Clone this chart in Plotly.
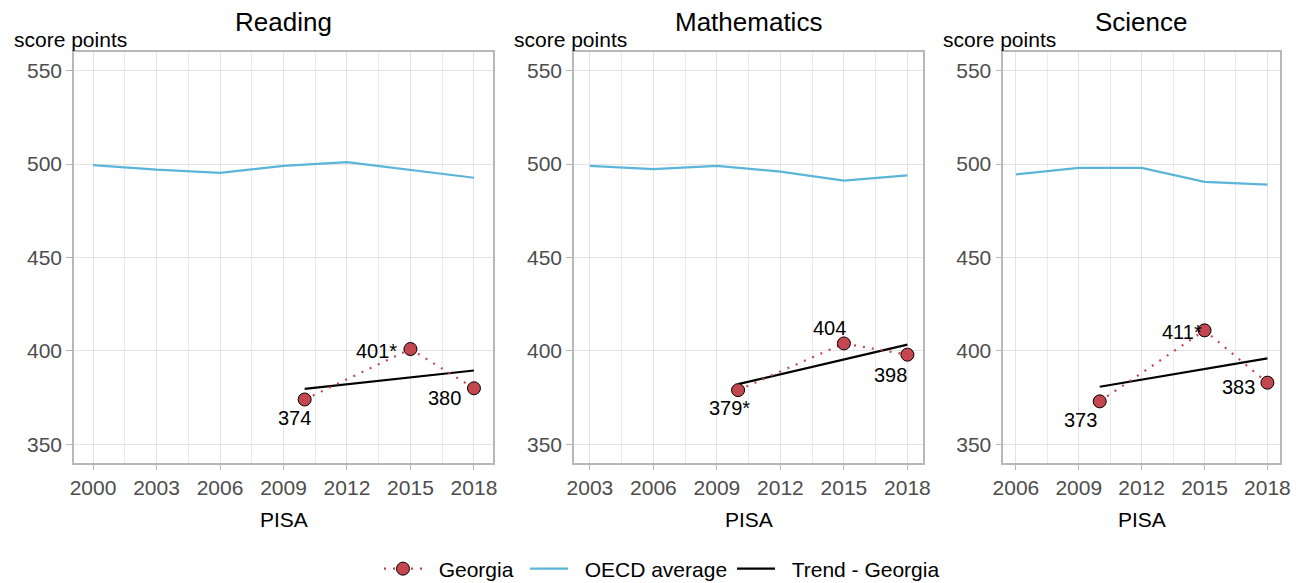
import plotly.graph_objects as go

# ---------------- data ----------------
subjects = ["Reading", "Mathematics", "Science"]

oecd_years_reading = [2000, 2003, 2006, 2009, 2012, 2015, 2018]
oecd_reading = [499.5, 497, 495.3, 499, 501, 497, 492.7]

oecd_years_math = [2003, 2006, 2009, 2012, 2015, 2018]
oecd_math = [499, 497.3, 499, 496, 491.2, 494]

oecd_years_science = [2006, 2009, 2012, 2015, 2018]
oecd_science = [494.5, 498, 498, 490.5, 489]

georgia_years = [2010, 2015, 2018]
georgia_reading = [374, 401, 380]
georgia_math = [379, 404, 398]
georgia_science = [373, 411, 383]

labels_reading = ["374", "401*", "380"]
labels_math = ["379*", "404", "398"]
labels_science = ["373", "411*", "383"]

trend_years = [2010, 2018]
trend_reading = [379.7, 389.5]
trend_math = [382.2, 403.4]
trend_science = [380.8, 396.0]

x_ticks_reading = [2000, 2003, 2006, 2009, 2012, 2015, 2018]
x_ticks_math = [2003, 2006, 2009, 2012, 2015, 2018]
x_ticks_science = [2006, 2009, 2012, 2015, 2018]
y_ticks = [350, 400, 450, 500, 550]

# ---------------- style ----------------
# The page body has an 8px margin, so the figure is drawn 8px in from the
# window's top-left corner; positions below are given in window pixels.
OFF = 8
W, H = 1303 - OFF, 583 - OFF
FONT = "Liberation Sans, Arial, sans-serif"
OECD_COLOR = "#5BB5D8"
GEO_COLOR = "#C4474F"
GRID = "#E3E3E3"
BORDER = "#B8B8B8"
TICKTXT = "#4D4D4D"
NB = "\u00a0" * 2


def xp(px):
    return (px - OFF) / W


def yp(py):
    return (H - (py - OFF)) / H


# plot areas in window pixels (left, right)
panel_px = [(74, 493), (574, 923.3), (1003.3, 1280)]
top_px, bottom_px = 52, 463
y_dom = [yp(bottom_px), yp(top_px)]

# label offsets: (xanchor, xshift, yshift)
label_offsets = [
    [("center", -10, -19), ("right", -11, -2), ("right", -11, -10)],
    [("center", -9, -18), ("center", -14, 15), ("center", -17, -20)],
    [("center", -19, -19), ("right", -1, -2), ("right", -10, -4)],
]

# legend boxes (left, window pixels)
legend_left_px = {"legend": 379, "legend2": 525, "legend3": 732}
legend_y = yp(569)

panels = [
    (oecd_years_reading, oecd_reading, georgia_reading, labels_reading, trend_reading, x_ticks_reading),
    (oecd_years_math, oecd_math, georgia_math, labels_math, trend_math, x_ticks_math),
    (oecd_years_science, oecd_science, georgia_science, labels_science, trend_science, x_ticks_science),
]

fig = go.Figure()
annotations = []
layout_axes = {}

for i, (oy, ov, gv, gl, tv, xt) in enumerate(panels):
    n = "" if i == 0 else str(i + 1)
    xa, ya = "x" + n, "y" + n
    first = i == 0

    fig.add_trace(go.Scatter(
        x=oy, y=ov, mode="lines", name=NB + "OECD average",
        line=dict(color=OECD_COLOR, width=2.2),
        xaxis=xa, yaxis=ya, showlegend=first, legend="legend2",
    ))
    fig.add_trace(go.Scatter(
        x=trend_years, y=tv, mode="lines", name=NB + "Trend - Georgia",
        line=dict(color="black", width=2.2),
        xaxis=xa, yaxis=ya, showlegend=first, legend="legend3",
    ))
    fig.add_trace(go.Scatter(
        x=georgia_years, y=gv, mode="lines+markers", name=NB + "Georgia",
        line=dict(color=GEO_COLOR, width=2.2, dash="2px,7px"),
        marker=dict(color=GEO_COLOR, size=13, line=dict(color="black", width=1)),
        xaxis=xa, yaxis=ya, showlegend=first, legend="legend",
    ))

    for (yr, v, lab, (anc, dx, dy)) in zip(georgia_years, gv, gl, label_offsets[i]):
        annotations.append(dict(
            x=yr, y=v, xref=xa, yref=ya, text=lab, showarrow=False,
            xanchor=anc, yanchor="middle", xshift=dx, yshift=dy,
            font=dict(family=FONT, size=20, color="black"),
        ))

    lo, hi = xt[0], xt[-1]
    pad = (hi - lo) * 0.05
    l_px, r_px = panel_px[i]
    layout_axes["xaxis" + n] = dict(
        domain=[xp(l_px), xp(r_px)], range=[lo - pad, hi + pad],
        anchor=ya, tickmode="array", tickvals=xt,
        ticktext=[str(t) for t in xt], automargin=False,
        showgrid=True, gridcolor=GRID, gridwidth=1.4,
        minor=dict(tickmode="array", tickvals=[t + 1.5 for t in xt[:-1]],
                   showgrid=True, gridcolor="#EBEBEB", gridwidth=0.9, ticks=""),
        showline=True, linecolor=BORDER, linewidth=1.6, mirror=True,
        ticks="outside", ticklen=5, tickcolor=BORDER, tickwidth=1.3,
        tickfont=dict(family=FONT, size=21, color=TICKTXT),
        zeroline=False, fixedrange=True,
    )
    layout_axes["yaxis" + n] = dict(
        domain=y_dom, range=[340, 560], anchor=xa, automargin=False,
        tickmode="array", tickvals=y_ticks,
        showgrid=True, gridcolor=GRID, gridwidth=1.4,
        showline=True, linecolor=BORDER, linewidth=1.6, mirror=True,
        ticks="outside", ticklen=6, tickcolor=BORDER, tickwidth=1.3,
        tickfont=dict(family=FONT, size=21, color=TICKTXT),
        zeroline=False, fixedrange=True,
    )

    cx = xp((l_px + r_px) / 2)
    annotations.append(dict(
        x=cx, y=yp(22), xref="paper", yref="paper", text=subjects[i],
        showarrow=False, xanchor="center", yanchor="middle",
        font=dict(family=FONT, size=26, color="black"),
    ))
    annotations.append(dict(
        x=xp(l_px - 62), y=yp(40), xref="paper", yref="paper",
        text="score points", showarrow=False, xanchor="left", yanchor="middle",
        font=dict(family=FONT, size=21, color="black"),
    ))
    annotations.append(dict(
        x=cx, y=yp(519), xref="paper", yref="paper", text="PISA",
        showarrow=False, xanchor="center", yanchor="middle",
        font=dict(family=FONT, size=21, color="black"),
    ))

legend_common = dict(orientation="h", xanchor="left", y=legend_y, yanchor="middle",
                     font=dict(family=FONT, size=21, color="black"),
                     bgcolor="rgba(0,0,0,0)", itemwidth=38)
legends = {k: dict(legend_common, x=xp(v)) for k, v in legend_left_px.items()}

fig.update_layout(
    width=W, height=H, autosize=False,
    margin=dict(l=0, r=0, t=0, b=0, pad=0, autoexpand=False),
    paper_bgcolor="white", plot_bgcolor="white",
    font=dict(family=FONT, size=21, color="black"),
    annotations=annotations,
    **legends,
    **layout_axes,
)

fig.write_html("out.html")
